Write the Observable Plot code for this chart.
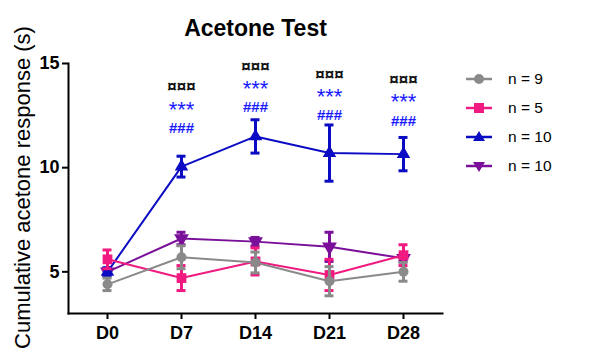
<!DOCTYPE html>
<html><head><meta charset="utf-8">
<script src="https://cdn.jsdelivr.net/npm/d3@7"></script>
<script src="https://cdn.jsdelivr.net/npm/@observablehq/plot@0.6"></script>
<style>
body{margin:0;background:#fff;font-family:"Liberation Sans",Arial,sans-serif}
#wrap{position:relative;width:598px;height:356px}
#legend{position:absolute;left:466px;top:64px}
.item{display:flex;align-items:center;height:29px;font-size:15.5px;color:#000}
.item svg{margin-right:14px}
</style></head><body><div id="wrap"><div id="chart"></div><div id="legend"></div></div>
<script>
const days = ["D0","D7","D14","D21","D28"];
const seriesLabels = ["n = 9","n = 5","n = 10","n = 10"];
const seriesColors = ["#8a8a8a","#f01a80","#0b0bc4","#7a1099"];
const seriesSymbols = ["circle","square","triangle","triangle-down"];
const grayMean = [4.4, 5.7, 5.45, 4.55, 5.0];
const grayErr  = [0.3, 0.55, 0.5, 0.7, 0.45];
const pinkMean = [5.6, 4.7, 5.5, 4.85, 5.8];
const pinkErr  = [0.45, 0.6, 0.65, 0.75, 0.5];
const blueMean = [5.0, 10.05, 11.5, 10.7, 10.65];
const blueErr  = [0.2, 0.5, 0.8, 1.35, 0.8];
const purpleMean = [5.0, 6.6, 6.45, 6.2, 5.65];
const purpleErr  = [0.15, 0.3, 0.2, 0.7, 0.15];
const yTicks = [5, 10, 15];
const sigDays = ["D7","D14","D21","D28"];
const sigLevel = [11.95, 12.95, 12.55, 12.3];
const title = "Acetone Test";
const yLabel = "Cumulative acetone response (s)";

const means = [grayMean, pinkMean, blueMean, purpleMean];
const errs = [grayErr, pinkErr, blueErr, purpleErr];
const rows = [];
means.forEach((m, s) => m.forEach((v, i) => rows.push({s, day: days[i], v, lo: v - errs[s][i], hi: v + errs[s][i]})));
const sig = sigDays.map((d, i) => ({day: d, y: sigLevel[i]}));

const order = [3, 2, 1, 0];
const marks = [];
for (const s of order) {
  const d = rows.filter(r => r.s === s);
  const c = seriesColors[s];
  marks.push(Plot.line(d, {x: "day", y: "v", stroke: c, strokeWidth: 2}));
  marks.push(Plot.ruleX(d, {x: "day", y1: "lo", y2: "hi", stroke: c, strokeWidth: 3}));
  marks.push(Plot.tickY(d, {x: "day", y: "lo", stroke: c, strokeWidth: 3, insetLeft: 32.5, insetRight: 32.5}));
  marks.push(Plot.tickY(d, {x: "day", y: "hi", stroke: c, strokeWidth: 3, insetLeft: 32.5, insetRight: 32.5}));
  if (seriesSymbols[s] === "triangle-down") {
    marks.push(Plot.dot(d, {x: "day", y: "v", fill: c, symbol: "triangle", rotate: 180, r: 5.5}));
  } else {
    marks.push(Plot.dot(d, {x: "day", y: "v", fill: c, symbol: seriesSymbols[s], r: seriesSymbols[s] === "square" ? 5.5 : 5}));
  }
}

const chart = Plot.plot({
  width: 598, height: 356,
  marginLeft: 68, marginRight: 156, marginTop: 63, marginBottom: 43,
  style: {fontFamily: "'Liberation Sans', Arial, sans-serif", background: "#fff"},
  x: {type: "band", domain: days, padding: 0},
  y: {domain: [3, 15]},
  marks: [
    Plot.axisX({tickSize: 6, tickPadding: 7, fontSize: 18, fontWeight: "bold", label: null, stroke: "#000", strokeWidth: 2}),
    Plot.axisY(yTicks, {tickSize: 6, tickPadding: 3, fontSize: 18, fontWeight: "bold", label: null, stroke: "#000", strokeWidth: 2}),
    Plot.frame({anchor: "left", stroke: "#000", strokeWidth: 2}),
    Plot.frame({anchor: "bottom", stroke: "#000", strokeWidth: 2}),
    ...marks,
    Plot.text(sig, {x: "day", y: "y", text: () => "###", fill: "#1a1aff", fontSize: 15, fontWeight: "bold", lineAnchor: "middle", dy: 1}),
    Plot.text(sig, {x: "day", y: "y", text: () => "***", fill: "#1a1aff", fontSize: 22, lineAnchor: "top", dy: -26, letterSpacing: 1}),
    Plot.text(sig, {x: "day", y: "y", text: () => "¤¤¤", fill: "#111", fontSize: 17, fontWeight: "bold", lineAnchor: "middle", dy: -40}),
    Plot.text([title], {frameAnchor: "top", lineAnchor: "middle", dy: -35, fontSize: 23, fontWeight: "bold", fill: "#000"}),
    Plot.text([yLabel], {frameAnchor: "left", textAnchor: "middle", lineAnchor: "middle", rotate: -90, dx: -46, dy: -1, fontSize: 22, fill: "#000"})
  ]
});
document.getElementById("chart").appendChild(chart);

const sym = {
  circle: c => `<circle cx="13" cy="8" r="5" fill="${c}"/>`,
  square: c => `<rect x="8" y="3" width="10" height="10" fill="${c}"/>`,
  triangle: c => `<path d="M13,2 L19,12 L7,12 Z" fill="${c}"/>`,
  "triangle-down": c => `<path d="M13,14 L19,4 L7,4 Z" fill="${c}"/>`
};
const leg = document.getElementById("legend");
seriesLabels.forEach((lab, s) => {
  const c = seriesColors[s];
  const div = document.createElement("div");
  div.className = "item";
  div.innerHTML = `<svg width="28" height="16"><line x1="0" x2="26" y1="8" y2="8" stroke="${c}" stroke-width="2.5"/>${sym[seriesSymbols[s]](c)}</svg><span>${lab}</span>`;
  leg.appendChild(div);
});
</script></body></html>
